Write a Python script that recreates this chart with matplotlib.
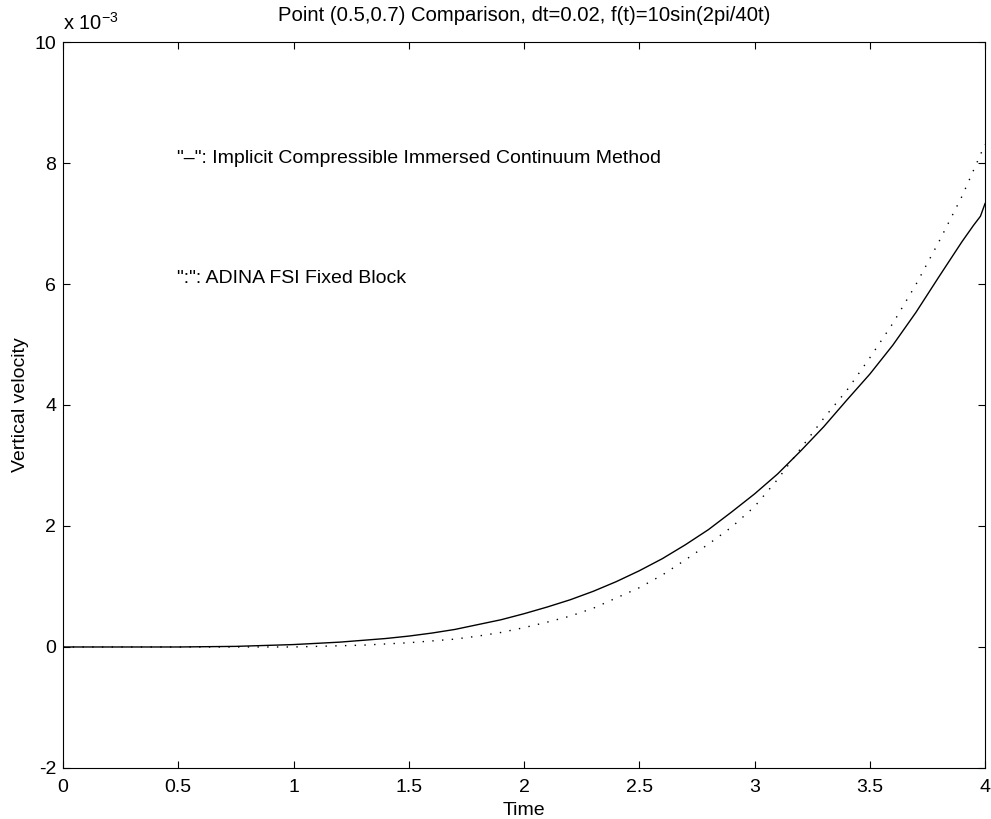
import numpy as np
import matplotlib
matplotlib.use('Agg')
import matplotlib.pyplot as plt

plt.rcParams['font.family'] = ['Liberation Sans', 'DejaVu Sans']
plt.rcParams['mathtext.fontset'] = 'custom'
plt.rcParams['mathtext.rm'] = 'Liberation Sans'
plt.rcParams['mathtext.it'] = 'Liberation Sans'
plt.rcParams['axes.unicode_minus'] = False

# time points and velocities (units of 1e-3)
t_implicit = [0.0, 0.5, 0.75, 1.0, 1.1, 1.2, 1.3, 1.4, 1.5, 1.6, 1.7, 1.8,
              1.9, 2.0, 2.1, 2.2, 2.3, 2.4, 2.5, 2.6, 2.7, 2.8, 2.9, 3.0,
              3.1, 3.2, 3.3, 3.4, 3.5, 3.6, 3.7, 3.8, 3.9, 3.95, 3.98, 4.0]
v_implicit = [0.0, 0.0, 0.01, 0.04, 0.06, 0.08, 0.11, 0.14, 0.18, 0.23, 0.29,
              0.37, 0.45, 0.55, 0.66, 0.78, 0.92, 1.08, 1.26, 1.46, 1.69,
              1.94, 2.23, 2.53, 2.86, 3.24, 3.64, 4.08, 4.51, 4.99, 5.53,
              6.12, 6.70, 6.97, 7.12, 7.33]

t_adina = [0.0, 0.75, 1.0, 1.1, 1.2, 1.3, 1.4, 1.5, 1.6, 1.7, 1.8, 1.9,
           2.0, 2.1, 2.2, 2.3, 2.4, 2.5, 2.6, 2.7, 2.8, 2.9, 3.0, 3.1,
           3.2, 3.3, 3.4, 3.5, 3.6, 3.7, 3.8, 3.9, 4.0]
v_adina = [0.0, 0.0, 0.0, 0.01, 0.02, 0.03, 0.05, 0.07, 0.10, 0.13, 0.18,
           0.24, 0.32, 0.41, 0.51, 0.64, 0.81, 0.98, 1.19, 1.44, 1.70,
           1.98, 2.32, 2.77, 3.28, 3.78, 4.24, 4.78, 5.35, 5.99, 6.70,
           7.45, 8.31]

xticks = [0, 0.5, 1, 1.5, 2, 2.5, 3, 3.5, 4]
xtick_labels = ['0', '0.5', '1', '1.5', '2', '2.5', '3', '3.5', '4']
yticks = [-2, 0, 2, 4, 6, 8, 10]
ytick_labels = ['-2', '0', '2', '4', '6', '8', '10']

fig = plt.figure(figsize=(9.91, 8.19), dpi=100)
ax = fig.add_axes([0.0636, 0.0623, 0.9304, 0.8864])

ax.plot(t_implicit, v_implicit, color='black', linewidth=1.0)
ax.plot(t_adina, v_adina, color='black', linewidth=1.0, linestyle=(0, (1, 6)))

ax.set_xlim(0, 4)
ax.set_ylim(-2, 10)
ax.set_xticks(xticks)
ax.set_xticklabels(xtick_labels)
ax.set_yticks(yticks)
ax.set_yticklabels(ytick_labels)
ax.tick_params(direction='in', top=True, right=True, length=5, width=0.8,
               labelsize=14)
ax.tick_params(axis='x', pad=8)
ax.tick_params(axis='y', pad=5)
for s in ax.spines.values():
    s.set_linewidth(0.8)

ax.set_xlabel('Time', fontsize=14, labelpad=4)
ax.set_ylabel('Vertical velocity', fontsize=14, labelpad=4)
ax.set_title('Point (0.5,0.7) Comparison, dt=0.02, f(t)=10sin(2pi/40t)',
             fontsize=14.6, pad=15)
ax.text(0.0, 1.012, r'x 10$^{-3}$', transform=ax.transAxes, fontsize=14.5,
        ha='left', va='bottom')

ax.text(0.495, 8.08, '"\u2013": Implicit Compressible Immersed Continuum Method',
        fontsize=14, va='center')
ax.text(0.495, 6.09, '":": ADINA FSI Fixed Block', fontsize=14, va='center')

fig.savefig('out.png', dpi=100)
